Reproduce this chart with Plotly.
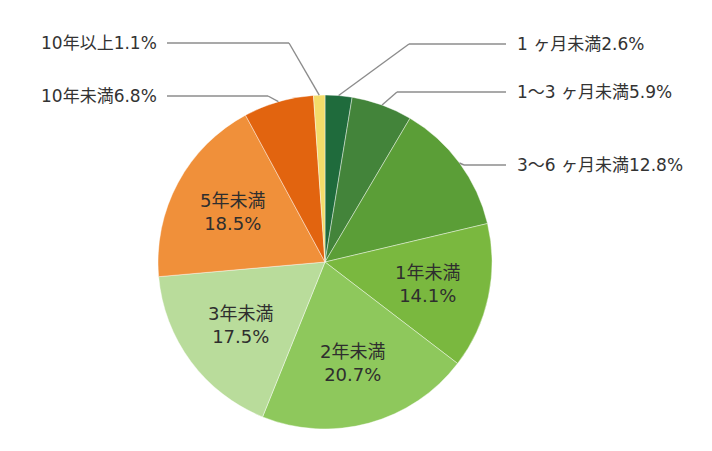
import math
import plotly.graph_objects as go

# slice data, clockwise from 12 o'clock
labels = ["1 ヶ月未満", "1〜3 ヶ月未満", "3〜6 ヶ月未満", "1年未満", "2年未満",
          "3年未満", "5年未満", "10年未満", "10年以上"]
values = [2.6, 5.9, 12.8, 14.1, 20.7, 17.5, 18.5, 6.8, 1.1]
colors = ["#1f6b3c", "#43843a", "#5b9e37", "#7ab83f", "#8ec85c",
          "#b9dc9b", "#f0903a", "#e2640f", "#f3dc6a"]

# which slices get an outside label, and where it goes (pixel layout)
outside = {
    "1 ヶ月未満": dict(side="right", y=44, elbow=409),
    "1〜3 ヶ月未満": dict(side="right", y=92, elbow=397),
    "3〜6 ヶ月未満": dict(side="right", y=165, elbow=464),
    "10年未満": dict(side="left", y=96, elbow=268),
    "10年以上": dict(side="left", y=43, elbow=289),
}

W, H = 712, 451
CX, CY, R = 325, 262, 167
RIGHT_END, LEFT_END = 506, 167
FONT = "DejaVu Sans, Noto Sans CJK JP"


def px(x):
    return x / W


def py(y):
    return 1 - y / H


fig = go.Figure()
fig.add_trace(go.Pie(
    labels=labels, values=values, sort=False, direction="clockwise",
    rotation=0, textinfo="none", hoverinfo="label+percent",
    marker=dict(colors=colors, line=dict(color="rgba(255,255,255,0.6)", width=0.7)),
    domain=dict(x=[px(CX - R), px(CX + R)], y=[py(CY + R), py(CY - R)]),
    showlegend=False,
))

annotations = []
shapes = []
total = sum(values)
cum = 0
for lab, val in zip(labels, values):
    mid = (cum + val / 2) / total * 2 * math.pi
    cum += val
    dx, dy = math.sin(mid), -math.cos(mid)
    pct = f"{val:.1f}%"
    if lab in outside:
        o = outside[lab]
        sx, sy = CX + R * dx, CY + R * dy
        end = RIGHT_END if o["side"] == "right" else LEFT_END
        for (x0, y0, x1, y1) in [(sx, sy, o["elbow"], o["y"]),
                                 (o["elbow"], o["y"], end, o["y"])]:
            shapes.append(dict(type="line", xref="paper", yref="paper",
                               x0=px(x0), y0=py(y0), x1=px(x1), y1=py(y1),
                               line=dict(color="#8c8c8c", width=1.4)))
        annotations.append(dict(
            x=px(end + 9 if o["side"] == "right" else end - 8), y=py(o["y"]),
            xref="paper", yref="paper", text=lab + pct, showarrow=False,
            xanchor="left" if o["side"] == "right" else "right",
            yanchor="middle", font=dict(size=17, color="#333333", family=FONT)))
    else:
        r = 0.63 * R
        annotations.append(dict(
            x=px(CX + r * dx), y=py(CY + r * dy), xref="paper", yref="paper",
            text=lab + "<br>" + pct, showarrow=False, align="center",
            xanchor="center", yanchor="middle",
            font=dict(size=18, color="#2e2e2e", family=FONT)))

fig.update_layout(
    width=W, height=H, margin=dict(l=0, r=0, t=0, b=0),
    paper_bgcolor="white", plot_bgcolor="white",
    annotations=annotations, shapes=shapes,
    font=dict(family=FONT),
)

# drop the page's default body margin so the figure sits at the window corner
fig.write_html("out.html", config={"displayModeBar": False},
               post_script="document.body.style.margin='0';")
